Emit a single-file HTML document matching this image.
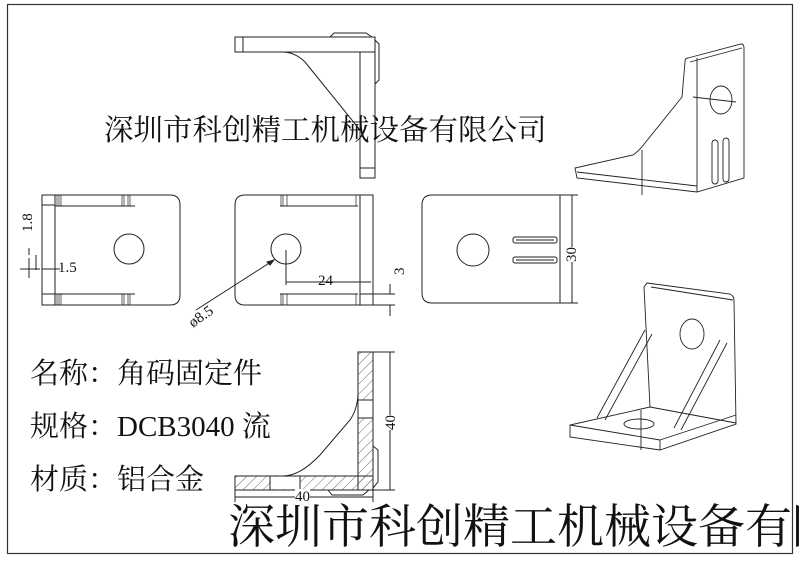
<!DOCTYPE html>
<html><head><meta charset="utf-8"><style>
html,body{margin:0;padding:0;background:#fff;}
body{width:799px;height:563px;overflow:hidden;position:relative;}
#wrap{position:absolute;left:0;top:0;width:799px;height:563px;overflow:hidden;}
svg{position:absolute;left:0;top:0;}
.t{position:absolute;white-space:nowrap;color:#111;font-family:"Liberation Serif","Noto Serif CJK SC",serif;}
</style></head><body><div id="wrap">
<svg width="799" height="563" viewBox="0 0 799 563" fill="none" stroke="#222" stroke-width="1">
<defs>
<pattern id="h" width="7" height="7" patternUnits="userSpaceOnUse" patternTransform="rotate(45)">
<line x1="0" y1="0" x2="0" y2="7" stroke="#444" stroke-width="0.8"/>
</pattern>
</defs>
<rect x="7.5" y="4.5" width="785" height="549" stroke="#333" stroke-width="1.2"/>

<!-- top view -->
<rect x="235" y="37" width="140" height="15"/>
<line x1="243" y1="37" x2="243" y2="52"/>
<rect x="360" y="52" width="15" height="126"/>
<line x1="360" y1="168" x2="375" y2="168"/>
<path d="M282 52 Q295 52 305 62 L360 130"/>
<path d="M330 37 L334 33 L366 33 L372 37"/>
<path d="M375 40 L379 44 L379 80 L375 84"/>

<!-- left view -->
<path d="M42 195 H170 Q180 195 180 205 V295 Q180 305 170 305 H42 Z"/>
<line x1="55" y1="195" x2="55" y2="305"/>
<line x1="42" y1="205" x2="55" y2="205"/><line x1="42" y1="294" x2="55" y2="294"/>
<line x1="55" y1="206" x2="135" y2="206"/><line x1="55" y1="294" x2="135" y2="294"/>
<g stroke-width="0.7"><line x1="57" y1="195" x2="57" y2="206"/><line x1="59" y1="195" x2="59" y2="206"/><line x1="61" y1="195" x2="61" y2="206"/>
<line x1="122" y1="195" x2="122" y2="206"/><line x1="124" y1="195" x2="124" y2="206"/><line x1="128" y1="195" x2="128" y2="206"/><line x1="130" y1="195" x2="130" y2="206"/>
<line x1="57" y1="294" x2="57" y2="305"/><line x1="59" y1="294" x2="59" y2="305"/><line x1="61" y1="294" x2="61" y2="305"/>
<line x1="122" y1="294" x2="122" y2="305"/><line x1="124" y1="294" x2="124" y2="305"/><line x1="128" y1="294" x2="128" y2="305"/><line x1="130" y1="294" x2="130" y2="305"/></g>
<circle cx="129" cy="249" r="15"/>
<line x1="20" y1="269" x2="40" y2="269"/><line x1="29" y1="258" x2="29" y2="278"/>
<line x1="36" y1="255" x2="36" y2="270"/><line x1="29" y1="248" x2="29" y2="255"/>
<line x1="42" y1="269" x2="60" y2="269"/>

<!-- middle view -->
<path d="M245 195 H373 V305 H245 Q235 305 235 295 V205 Q235 195 245 195 Z"/>
<line x1="360" y1="195" x2="360" y2="305"/>
<line x1="280" y1="206" x2="358" y2="206"/><line x1="280" y1="294" x2="358" y2="294"/>
<g stroke-width="0.7"><line x1="281" y1="195" x2="281" y2="206"/><line x1="283" y1="195" x2="283" y2="206"/><line x1="287" y1="195" x2="287" y2="206"/>
<line x1="281" y1="294" x2="281" y2="305"/><line x1="283" y1="294" x2="283" y2="305"/><line x1="287" y1="294" x2="287" y2="305"/>
<line x1="356" y1="195" x2="356" y2="206"/><line x1="356" y1="294" x2="356" y2="305"/></g>
<circle cx="286" cy="249" r="15"/>
<line x1="286" y1="250" x2="286" y2="285"/>
<line x1="286" y1="282" x2="371" y2="282"/>
<path d="M196 310 L274 260"/><path d="M274 260 l-7 2 l3 3 z" fill="#222"/>
<line x1="360" y1="294" x2="395" y2="294"/><line x1="373" y1="305" x2="395" y2="305"/>
<line x1="390" y1="284" x2="390" y2="294"/><line x1="390" y1="305" x2="390" y2="316"/>

<!-- right view -->
<path d="M432 195 H560 V303 H432 Q422 303 422 293 V205 Q422 195 432 195 Z"/>
<circle cx="473" cy="250" r="16"/>
<rect x="513" y="237" width="44" height="6" rx="2"/><rect x="513" y="257" width="44" height="6" rx="2"/>
<line x1="516" y1="240" x2="554" y2="240"/><line x1="516" y1="260" x2="554" y2="260"/>
<line x1="560" y1="195" x2="578" y2="195"/><line x1="560" y1="303" x2="578" y2="303"/>
<line x1="572" y1="195" x2="572" y2="303"/>

<!-- section view -->
<rect x="358" y="352" width="15" height="138" fill="url(#h)"/>
<rect x="235" y="476" width="138" height="14" fill="url(#h)"/>
<rect x="358" y="400" width="15" height="18" fill="#fff"/>
<rect x="271" y="477" width="29" height="12" fill="#fff" stroke="none"/>
<path d="M358 352 H373 V490 H235 V476 H358 Z"/>
<path d="M358 395 Q357 410 350 420 L320 455 Q300 476 283 476"/>
<line x1="358" y1="400" x2="373" y2="400"/><line x1="358" y1="418" x2="373" y2="418"/>
<line x1="270" y1="476" x2="270" y2="490"/><line x1="300" y1="476" x2="300" y2="490"/>
<path d="M373 446 L378 450 V482 L373 488"/>
<path d="M328 490 L332 495 H363 L369 490"/>
<line x1="373" y1="352" x2="395" y2="352"/><line x1="373" y1="490" x2="395" y2="490"/>
<line x1="390" y1="352" x2="390" y2="490"/>
<line x1="235" y1="490" x2="235" y2="502"/><line x1="373" y1="490" x2="373" y2="502"/>
<line x1="235" y1="497" x2="373" y2="497"/>

<!-- 3D top right -->
<g stroke-width="0.9">
<path d="M688 58 L741 44 Q744 44 744 48 L744 178 L697 192 L577 178 L575 168 L633 155 Q640 150 645 143 L682 97 L685 62 Q685 58 688 58 Z"/>
<line x1="697" y1="58" x2="697" y2="192"/>
<line x1="690" y1="62" x2="742" y2="48"/>
<line x1="642" y1="150" x2="642" y2="195"/>
<ellipse cx="721" cy="100" rx="11" ry="14"/>
<line x1="693" y1="97" x2="736" y2="102"/>
<rect x="712" y="140" width="6" height="44" rx="3"/><rect x="723" y="138" width="6" height="44" rx="3"/>
<line x1="577" y1="172" x2="697" y2="186"/>
</g>

<!-- 3D bottom right -->
<g stroke-width="0.9">
<path d="M647 283 L730 294 Q734 296 734 300 L736 424 L660 450 L570 437 L570 425 L650 407 L644 287 Z"/>
<line x1="650" y1="407" x2="736" y2="423"/>
<line x1="570" y1="425" x2="660" y2="440"/>
<line x1="660" y1="440" x2="660" y2="450"/>
<line x1="660" y1="440" x2="736" y2="415"/>
<line x1="651" y1="287" x2="733" y2="300"/>
<ellipse cx="692" cy="334" rx="12" ry="15"/>
<ellipse cx="639" cy="424" rx="15" ry="5"/>
<path d="M645 330 L597 418 M652 334 L605 420"/>
<path d="M720 340 L674 428 M727 343 L681 430"/>
<line x1="641" y1="410" x2="641" y2="450"/>
</g>
</svg>

<div class="t" style="left:104px;top:113px;font-size:29.5px;line-height:36px;">深圳市科创精工机械设备有限公司</div>
<div class="t" style="left:228px;top:500px;font-size:47px;line-height:56px;">深圳市科创精工机械设备有限公司</div>
<div class="t" style="left:30px;top:356px;font-size:29px;line-height:36px;">名称：角码固定件</div>
<div class="t" style="left:30px;top:409px;font-size:29px;line-height:36px;">规格：DCB3040 流</div>
<div class="t" style="left:30px;top:462px;font-size:29px;line-height:36px;">材质：铝合金</div>

<div class="t" style="left:20px;font-size:15px;transform:rotate(-90deg);transform-origin:left top;top:232px;">1.8</div>
<div class="t" style="left:58px;top:260px;font-size:15px;">1.5</div>
<div class="t" style="left:318px;top:273px;font-size:15px;">24</div>
<div class="t" style="left:392px;top:275px;font-size:15px;transform:rotate(-90deg);transform-origin:left top;">3</div>
<div class="t" style="left:186px;top:318px;font-size:15px;transform:rotate(-35deg);transform-origin:left top;">ø8.5</div>
<div class="t" style="left:564px;top:262px;font-size:15px;transform:rotate(-90deg);transform-origin:left top;background:#fff;">30</div>
<div class="t" style="left:383px;top:430px;font-size:15px;transform:rotate(-90deg);transform-origin:left top;background:#fff;">40</div>
<div class="t" style="left:295px;top:489px;font-size:15px;line-height:16px;background:#fff;">40</div>
</div></body></html>
